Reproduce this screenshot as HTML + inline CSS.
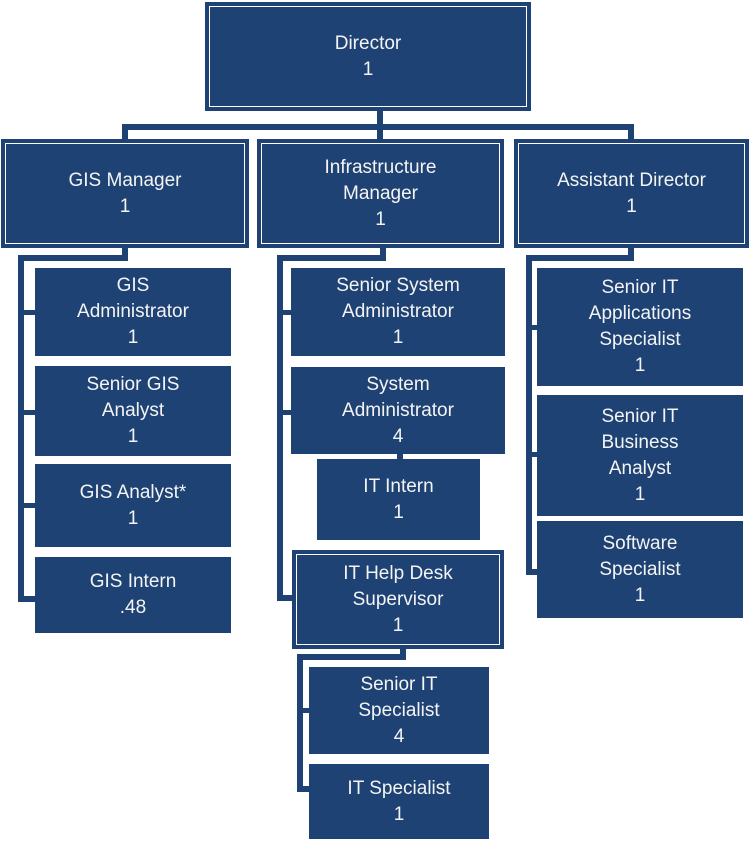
<!DOCTYPE html>
<html><head><meta charset="utf-8"><style>
body{margin:0;width:750px;height:842px;background:#fff;position:relative;overflow:hidden;font-family:"Liberation Sans",sans-serif}
.b{position:absolute;background:#1e4273;color:#f4f4f4;display:flex;align-items:center;justify-content:center;text-align:center;font-size:19px;line-height:26px;box-sizing:border-box;box-shadow:0 0 0 1px #1e4273;}
.o{outline:1px solid #fff;outline-offset:-4px}
.l{position:absolute;background:#1e4273}
</style></head><body>
<!-- connectors -->
<div class="l" style="left:377px;top:108px;width:6px;height:34px"></div>
<div class="l" style="left:122px;top:124px;width:512px;height:6px"></div>
<div class="l" style="left:122px;top:124px;width:6px;height:18px"></div>
<div class="l" style="left:628px;top:124px;width:6px;height:18px"></div>
<!-- GIS -->
<div class="l" style="left:122px;top:245px;width:6px;height:16px"></div>
<div class="l" style="left:18px;top:255px;width:110px;height:6px"></div>
<div class="l" style="left:18px;top:255px;width:6px;height:347px"></div>
<div class="l" style="left:18px;top:310px;width:20px;height:5px"></div>
<div class="l" style="left:18px;top:410px;width:20px;height:5px"></div>
<div class="l" style="left:18px;top:503px;width:20px;height:5px"></div>
<div class="l" style="left:18px;top:596px;width:20px;height:6px"></div>
<!-- Infra -->
<div class="l" style="left:380px;top:245px;width:6px;height:16px"></div>
<div class="l" style="left:277px;top:255px;width:109px;height:6px"></div>
<div class="l" style="left:277px;top:255px;width:6px;height:346px"></div>
<div class="l" style="left:277px;top:310px;width:17px;height:5px"></div>
<div class="l" style="left:277px;top:410px;width:17px;height:5px"></div>
<div class="l" style="left:277px;top:595px;width:17px;height:6px"></div>
<div class="l" style="left:397px;top:452px;width:6px;height:10px"></div>
<div class="l" style="left:400px;top:646px;width:6px;height:14px"></div>
<div class="l" style="left:297px;top:654px;width:109px;height:6px"></div>
<div class="l" style="left:297px;top:654px;width:6px;height:138px"></div>
<div class="l" style="left:297px;top:708px;width:15px;height:5px"></div>
<div class="l" style="left:297px;top:786px;width:15px;height:6px"></div>
<!-- Asst -->
<div class="l" style="left:628px;top:245px;width:6px;height:16px"></div>
<div class="l" style="left:526px;top:255px;width:108px;height:6px"></div>
<div class="l" style="left:526px;top:255px;width:6px;height:320px"></div>
<div class="l" style="left:526px;top:325px;width:14px;height:5px"></div>
<div class="l" style="left:526px;top:452px;width:14px;height:5px"></div>
<div class="l" style="left:526px;top:569px;width:14px;height:6px"></div>

<div class="b o" style="left:206px;top:3px;width:324px;height:107px">Director<br>1</div>
<div class="b o" style="left:2px;top:140px;width:246px;height:107px">GIS Manager<br>1</div>
<div class="b o" style="left:258px;top:140px;width:245px;height:107px">Infrastructure<br>Manager<br>1</div>
<div class="b o" style="left:515px;top:140px;width:233px;height:107px">Assistant Director<br>1</div>

<div class="b" style="left:36px;top:269px;width:194px;height:86px">GIS<br>Administrator<br>1</div>
<div class="b" style="left:36px;top:367px;width:194px;height:88px">Senior GIS<br>Analyst<br>1</div>
<div class="b" style="left:36px;top:465px;width:194px;height:81px">GIS Analyst*<br>1</div>
<div class="b" style="left:36px;top:558px;width:194px;height:74px">GIS Intern<br>.48</div>

<div class="b" style="left:292px;top:269px;width:212px;height:86px">Senior System<br>Administrator<br>1</div>
<div class="b" style="left:292px;top:368px;width:212px;height:85px">System<br>Administrator<br>4</div>
<div class="b" style="left:318px;top:460px;width:161px;height:79px">IT Intern<br>1</div>
<div class="b o" style="left:293px;top:551px;width:210px;height:97px">IT Help Desk<br>Supervisor<br>1</div>
<div class="b" style="left:310px;top:668px;width:178px;height:85px">Senior IT<br>Specialist<br>4</div>
<div class="b" style="left:310px;top:765px;width:178px;height:73px">IT Specialist<br>1</div>

<div class="b" style="left:538px;top:269px;width:204px;height:116px">Senior IT<br>Applications<br>Specialist<br>1</div>
<div class="b" style="left:538px;top:396px;width:204px;height:119px">Senior IT<br>Business<br>Analyst<br>1</div>
<div class="b" style="left:538px;top:522px;width:204px;height:95px">Software<br>Specialist<br>1</div>
</body></html>
